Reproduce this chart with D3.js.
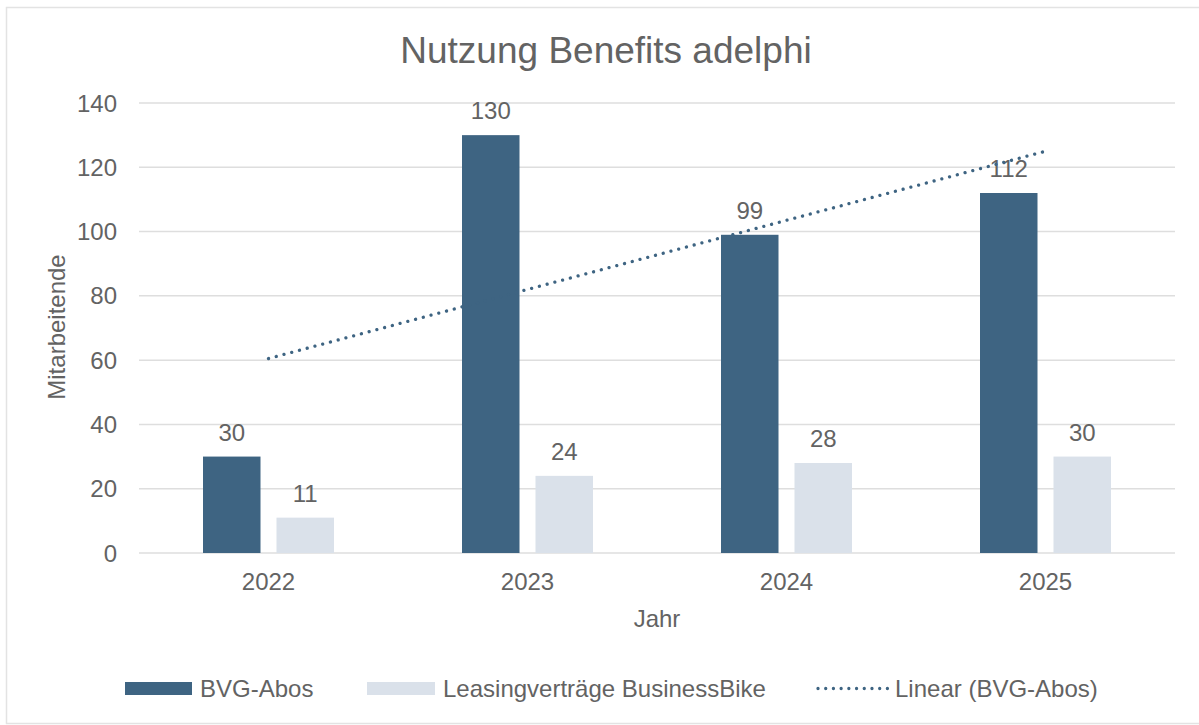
<!doctype html>
<html>
  <head>
    <meta charset="utf-8">
    <title>Nutzung Benefits adelphi</title>
    <style>
      body { margin: 0; background: #fff; }
      svg text { font-family: "Liberation Sans", Arial, sans-serif; fill: #636363; }
    </style>
  </head>
  <body>
    <div id="chart"></div>
    <script src="https://d3js.org/d3.v7.min.js"></script>
    <script>
      var years = ['2022', '2023', '2024', '2025'];
      var bvgAbos = [30, 130, 99, 112];
      var leasing = [11, 24, 28, 30];
      var yTicks = [0, 20, 40, 60, 80, 100, 120, 140];
      var seriesNames = ['BVG-Abos', 'Leasingverträge BusinessBike', 'Linear (BVG-Abos)'];

      var width = 1199, height = 725;
      var colors = ['#3e6482', '#dae1ea'];

      var svg = d3.select('#chart').append('svg')
        .attr('width', width)
        .attr('height', height);

      // chart frame (right edge runs off the picture)
      svg.append('rect')
        .attr('x', 6.5).attr('y', 7.5)
        .attr('width', 1210).attr('height', 716)
        .attr('fill', '#fff')
        .attr('stroke', '#e3e3e3')
        .attr('stroke-width', 1.5);

      var x = d3.scaleBand().domain(years).range([139, 1175]);
      var y = d3.scaleLinear().domain([0, 140]).range([553, 103]);
      var barW = 57.5, gap = 16;

      // gridlines
      svg.append('g').selectAll('line')
        .data(yTicks)
        .enter().append('line')
        .attr('x1', 139).attr('x2', 1175)
        .attr('y1', function(d) { return y(d); })
        .attr('y2', function(d) { return y(d); })
        .attr('stroke', '#dedede')
        .attr('stroke-width', 1.5);

      // y tick labels
      svg.append('g').selectAll('text')
        .data(yTicks)
        .enter().append('text')
        .attr('x', 117)
        .attr('y', function(d) { return y(d) + 8.5; })
        .attr('text-anchor', 'end')
        .attr('font-size', 24)
        .text(function(d) { return d; });

      // x tick labels
      svg.append('g').selectAll('text')
        .data(years)
        .enter().append('text')
        .attr('x', function(d) { return x(d) + x.bandwidth() / 2; })
        .attr('y', 590)
        .attr('text-anchor', 'middle')
        .attr('font-size', 24)
        .text(function(d) { return d; });

      var series = [bvgAbos, leasing];
      series.forEach(function(vals, s) {
        var offset = s === 0 ? -gap / 2 - barW : gap / 2;
        var g = svg.append('g');
        g.selectAll('rect')
          .data(vals)
          .enter().append('rect')
          .attr('x', function(d, i) { return x(years[i]) + x.bandwidth() / 2 + offset; })
          .attr('y', function(d) { return y(d); })
          .attr('width', barW)
          .attr('height', function(d) { return y(0) - y(d); })
          .attr('fill', colors[s]);
        g.selectAll('text')
          .data(vals)
          .enter().append('text')
          .attr('x', function(d, i) { return x(years[i]) + x.bandwidth() / 2 + offset + barW / 2; })
          .attr('y', function(d) { return y(d) - 16; })
          .attr('text-anchor', 'middle')
          .attr('font-size', 24)
          .text(function(d) { return d; });
      });

      // linear trendline (least squares on BVG-Abos, like Excel)
      var n = bvgAbos.length;
      var mx = (n + 1) / 2, my = d3.mean(bvgAbos);
      var sxy = 0, sxx = 0;
      bvgAbos.forEach(function(v, i) { sxy += (i + 1 - mx) * (v - my); sxx += (i + 1 - mx) * (i + 1 - mx); });
      var slope = sxy / sxx, icpt = my - slope * mx;
      var trend = years.map(function(yr, i) { return [yr, icpt + slope * (i + 1)]; });
      var line = d3.line()
        .x(function(d) { return x(d[0]) + x.bandwidth() / 2; })
        .y(function(d) { return y(d[1]); });
      svg.append('path')
        .datum([trend[0], trend[n - 1]])
        .attr('d', line)
        .attr('fill', 'none')
        .attr('stroke', '#3e6482')
        .attr('stroke-width', 3.3)
        .attr('stroke-linecap', 'round')
        .attr('stroke-dasharray', '0.01 8');

      // title
      svg.append('text')
        .attr('x', 606).attr('y', 63)
        .attr('text-anchor', 'middle')
        .attr('font-size', 37)
        .text('Nutzung Benefits adelphi');

      // axis titles
      svg.append('text')
        .attr('transform', 'translate(65,327) rotate(-90)')
        .attr('text-anchor', 'middle')
        .attr('font-size', 24)
        .text('Mitarbeitende');
      svg.append('text')
        .attr('x', 657).attr('y', 627)
        .attr('text-anchor', 'middle')
        .attr('font-size', 24)
        .text('Jahr');

      // legend
      var legend = svg.append('g');
      legend.append('rect').attr('x', 125).attr('y', 682).attr('width', 67).attr('height', 13).attr('fill', colors[0]);
      legend.append('text').attr('x', 200).attr('y', 697).attr('font-size', 24).text(seriesNames[0]);
      legend.append('rect').attr('x', 367).attr('y', 682).attr('width', 68).attr('height', 13).attr('fill', colors[1]);
      legend.append('text').attr('x', 443).attr('y', 697).attr('font-size', 24).text(seriesNames[1]);
      legend.append('line')
        .attr('x1', 818).attr('x2', 888).attr('y1', 688.5).attr('y2', 688.5)
        .attr('stroke', '#3e6482').attr('stroke-width', 3.3)
        .attr('stroke-linecap', 'round').attr('stroke-dasharray', '0.01 7.7');
      legend.append('text').attr('x', 895).attr('y', 697).attr('font-size', 24).text(seriesNames[2]);
    </script>
  </body>
</html>
